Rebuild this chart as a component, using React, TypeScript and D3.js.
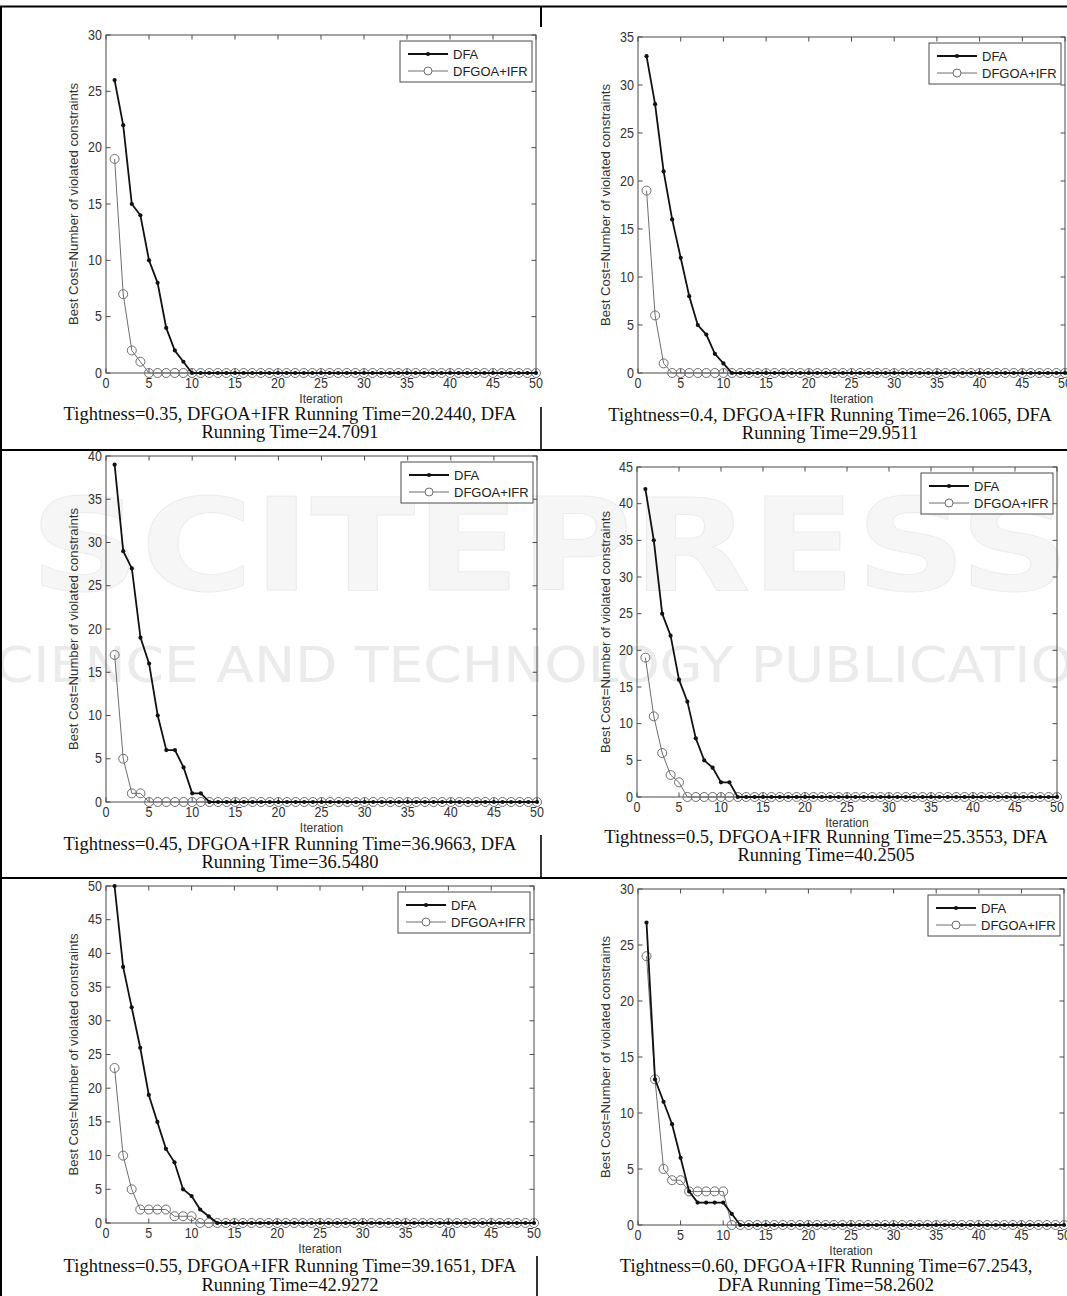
import React from 'react';
import * as d3 from 'd3';

// ---------- data ----------
const xTickValues = [0, 5, 10, 15, 20, 25, 30, 35, 40, 45, 50];
const seriesNames = ['DFA', 'DFGOA+IFR'];
const tightness = ['0.35', '0.4', '0.45', '0.5', '0.55', '0.60'];
const dfgoaTimes = ['20.2440', '26.1065', '36.9663', '25.3553', '39.1651', '67.2543'];
const dfaTimes = ['24.7091', '29.9511', '36.5480', '40.2505', '42.9272', '58.2602'];
const yMaxes = [30, 35, 40, 45, 50, 30];

const dfa035 = [
  26, 22, 15, 14, 10, 8, 4, 2, 1, 0,
  0, 0, 0, 0, 0, 0, 0, 0, 0, 0,
  0, 0, 0, 0, 0, 0, 0, 0, 0, 0,
  0, 0, 0, 0, 0, 0, 0, 0, 0, 0,
  0, 0, 0, 0, 0, 0, 0, 0, 0, 0,
];
const ifr035 = [
  19, 7, 2, 1, 0, 0, 0, 0, 0, 0,
  0, 0, 0, 0, 0, 0, 0, 0, 0, 0,
  0, 0, 0, 0, 0, 0, 0, 0, 0, 0,
  0, 0, 0, 0, 0, 0, 0, 0, 0, 0,
  0, 0, 0, 0, 0, 0, 0, 0, 0, 0,
];
const dfa040 = [
  33, 28, 21, 16, 12, 8, 5, 4, 2, 1,
  0, 0, 0, 0, 0, 0, 0, 0, 0, 0,
  0, 0, 0, 0, 0, 0, 0, 0, 0, 0,
  0, 0, 0, 0, 0, 0, 0, 0, 0, 0,
  0, 0, 0, 0, 0, 0, 0, 0, 0, 0,
];
const ifr040 = [
  19, 6, 1, 0, 0, 0, 0, 0, 0, 0,
  0, 0, 0, 0, 0, 0, 0, 0, 0, 0,
  0, 0, 0, 0, 0, 0, 0, 0, 0, 0,
  0, 0, 0, 0, 0, 0, 0, 0, 0, 0,
  0, 0, 0, 0, 0, 0, 0, 0, 0, 0,
];
const dfa045 = [
  39, 29, 27, 19, 16, 10, 6, 6, 4, 1,
  1, 0, 0, 0, 0, 0, 0, 0, 0, 0,
  0, 0, 0, 0, 0, 0, 0, 0, 0, 0,
  0, 0, 0, 0, 0, 0, 0, 0, 0, 0,
  0, 0, 0, 0, 0, 0, 0, 0, 0, 0,
];
const ifr045 = [
  17, 5, 1, 1, 0, 0, 0, 0, 0, 0,
  0, 0, 0, 0, 0, 0, 0, 0, 0, 0,
  0, 0, 0, 0, 0, 0, 0, 0, 0, 0,
  0, 0, 0, 0, 0, 0, 0, 0, 0, 0,
  0, 0, 0, 0, 0, 0, 0, 0, 0, 0,
];
const dfa050 = [
  42, 35, 25, 22, 16, 13, 8, 5, 4, 2,
  2, 0, 0, 0, 0, 0, 0, 0, 0, 0,
  0, 0, 0, 0, 0, 0, 0, 0, 0, 0,
  0, 0, 0, 0, 0, 0, 0, 0, 0, 0,
  0, 0, 0, 0, 0, 0, 0, 0, 0, 0,
];
const ifr050 = [
  19, 11, 6, 3, 2, 0, 0, 0, 0, 0,
  0, 0, 0, 0, 0, 0, 0, 0, 0, 0,
  0, 0, 0, 0, 0, 0, 0, 0, 0, 0,
  0, 0, 0, 0, 0, 0, 0, 0, 0, 0,
  0, 0, 0, 0, 0, 0, 0, 0, 0, 0,
];
const dfa055 = [
  50, 38, 32, 26, 19, 15, 11, 9, 5, 4,
  2, 1, 0, 0, 0, 0, 0, 0, 0, 0,
  0, 0, 0, 0, 0, 0, 0, 0, 0, 0,
  0, 0, 0, 0, 0, 0, 0, 0, 0, 0,
  0, 0, 0, 0, 0, 0, 0, 0, 0, 0,
];
const ifr055 = [
  23, 10, 5, 2, 2, 2, 2, 1, 1, 1,
  0, 0, 0, 0, 0, 0, 0, 0, 0, 0,
  0, 0, 0, 0, 0, 0, 0, 0, 0, 0,
  0, 0, 0, 0, 0, 0, 0, 0, 0, 0,
  0, 0, 0, 0, 0, 0, 0, 0, 0, 0,
];
const dfa060 = [
  27, 13, 11, 9, 6, 3, 2, 2, 2, 2,
  1, 0, 0, 0, 0, 0, 0, 0, 0, 0,
  0, 0, 0, 0, 0, 0, 0, 0, 0, 0,
  0, 0, 0, 0, 0, 0, 0, 0, 0, 0,
  0, 0, 0, 0, 0, 0, 0, 0, 0, 0,
];
const ifr060 = [
  24, 13, 5, 4, 4, 3, 3, 3, 3, 3,
  0, 0, 0, 0, 0, 0, 0, 0, 0, 0,
  0, 0, 0, 0, 0, 0, 0, 0, 0, 0,
  0, 0, 0, 0, 0, 0, 0, 0, 0, 0,
  0, 0, 0, 0, 0, 0, 0, 0, 0, 0,
];

const dfaSeries = [dfa035, dfa040, dfa045, dfa050, dfa055, dfa060];
const ifrSeries = [ifr035, ifr040, ifr045, ifr050, ifr055, ifr060];

// ---------- layout ----------
const W = 1067;
const H = 1296;
const layout = [
  { left: 106, right: 536, top: 35, bottom: 373, yLabelX: 73, capX: 290, capY: [420, 438], split: 'std' },
  { left: 638, right: 1065, top: 37, bottom: 373, yLabelX: 605, capX: 830, capY: [421, 439], split: 'std' },
  { left: 106, right: 537, top: 456, bottom: 802, yLabelX: 73, capX: 290, capY: [850, 868], split: 'std' },
  { left: 637, right: 1057, top: 467, bottom: 797, yLabelX: 605, capX: 826, capY: [843, 861], split: 'std' },
  { left: 106, right: 534, top: 886, bottom: 1223, yLabelX: 73, capX: 290, capY: [1272, 1291], split: 'std' },
  { left: 638, right: 1064, top: 889, bottom: 1225, yLabelX: 605, capX: 826, capY: [1272, 1291], split: 'alt' },
];

const SANS = 'Arial, "Liberation Sans", Helvetica, sans-serif';
const SERIF = '"Times New Roman", "Liberation Serif", serif';
const FRAME = '#4a4a4a';
const TICKTXT = '#333';
const GRAY = '#6e6e6e';
const SY = 1.1; // vertical stretch of the reference's small sans text

function T({ x, y, children, anchor = 'start', size = 12, family = SANS, fill = TICKTXT, sy = SY }: any) {
  return (
    <text
      transform={`translate(${x},${y}) scale(1,${sy})`}
      textAnchor={anchor}
      fontFamily={family}
      fontSize={size}
      fill={fill}
    >
      {children}
    </text>
  );
}

function Panel({ idx }: { idx: number }) {
  const L = layout[idx];
  const x = d3.scaleLinear().domain([0, 50]).range([L.left, L.right]);
  const y = d3.scaleLinear().domain([0, yMaxes[idx]]).range([L.bottom, L.top]);
  const yTicks = d3.range(0, yMaxes[idx] + 0.001, 5);
  const line = d3
    .line<number>()
    .x((_, i) => x(i + 1))
    .y((d) => y(d));
  const dfa = dfaSeries[idx];
  const ifr = ifrSeries[idx];
  const tl = 4.5;

  const lgW = 132;
  const lgH = 41;
  const lgX = L.right - 4 - lgW;
  const lgY = L.top + 6;

  const t = tightness[idx];
  const lines =
    L.split === 'std'
      ? [`Tightness=${t}, DFGOA+IFR Running Time=${dfgoaTimes[idx]}, DFA`, `Running Time=${dfaTimes[idx]}`]
      : [`Tightness=${t}, DFGOA+IFR Running Time=${dfgoaTimes[idx]},`, `DFA Running Time=${dfaTimes[idx]}`];

  return (
    <g>
      {/* frame */}
      <rect x={L.left} y={L.top} width={L.right - L.left} height={L.bottom - L.top} fill="none" stroke={FRAME} strokeWidth={1} />
      {/* x ticks */}
      {xTickValues.map((v) => (
        <g key={'x' + v}>
          <line x1={x(v)} x2={x(v)} y1={L.bottom} y2={L.bottom - tl} stroke={FRAME} />
          <line x1={x(v)} x2={x(v)} y1={L.top} y2={L.top + tl} stroke={FRAME} />
          <T x={x(v)} y={L.bottom + 15} anchor="middle" size={12.5}>
            {v}
          </T>
        </g>
      ))}
      {/* y ticks */}
      {yTicks.map((v) => (
        <g key={'y' + v}>
          <line x1={L.left} x2={L.left + tl} y1={y(v)} y2={y(v)} stroke={FRAME} />
          <line x1={L.right} x2={L.right - tl} y1={y(v)} y2={y(v)} stroke={FRAME} />
          <T x={L.left - 4} y={y(v) + 4.5} anchor="end" size={12.5}>
            {v}
          </T>
        </g>
      ))}
      {/* axis labels */}
      <T x={(L.left + L.right) / 2} y={L.bottom + 30} anchor="middle" size={12}>
        Iteration
      </T>
      <text
        transform={`translate(${L.yLabelX + 4.5},${(L.top + L.bottom) / 2}) rotate(-90)`}
        textAnchor="middle"
        fontFamily={SANS}
        fontSize={12.5}
        fill={TICKTXT}
        textLength={242}
        lengthAdjust="spacingAndGlyphs"
      >
        Best Cost=Number of violated constraints
      </text>
      {/* DFGOA+IFR series */}
      <path d={line(ifr) || ''} fill="none" stroke={GRAY} strokeWidth={1} />
      {ifr.map((v, i) => (
        <circle key={'c' + i} cx={x(i + 1)} cy={y(v)} r={4.5} fill="none" stroke={GRAY} strokeWidth={1} />
      ))}
      {/* DFA series */}
      <path d={line(dfa) || ''} fill="none" stroke="#111" strokeWidth={1.8} />
      {dfa.map((v, i) => (
        <circle key={'d' + i} cx={x(i + 1)} cy={y(v)} r={2.1} fill="#111" />
      ))}
      {/* legend */}
      <rect x={lgX} y={lgY} width={lgW} height={lgH} fill="#fff" stroke={FRAME} strokeWidth={1} />
      <line x1={lgX + 8} x2={lgX + 48} y1={lgY + 13} y2={lgY + 13} stroke="#111" strokeWidth={1.8} />
      <circle cx={lgX + 28} cy={lgY + 13} r={2.1} fill="#111" />
      <T x={lgX + 53} y={lgY + 17.5} size={13} fill="#222" sy={1.05}>
        {seriesNames[0]}
      </T>
      <line x1={lgX + 8} x2={lgX + 48} y1={lgY + 30} y2={lgY + 30} stroke={GRAY} strokeWidth={1} />
      <circle cx={lgX + 28} cy={lgY + 30} r={4} fill="#fff" stroke={GRAY} strokeWidth={1} />
      <T x={lgX + 53} y={lgY + 34.5} size={13} fill="#222" sy={1.05}>
        {seriesNames[1]}
      </T>
      {/* caption */}
      {lines.map((s, k) => (
        <T key={'cap' + k} x={L.capX} y={L.capY[k]} anchor="middle" family={SERIF} size={18.5} fill="#111" sy={1}>
          {s}
        </T>
      ))}
    </g>
  );
}

export default function App() {
  return (
    <svg
      width={W}
      height={H}
      viewBox={`0 0 ${W} ${H}`}
      style={{ position: 'absolute', left: 0, top: 0, background: '#fff', display: 'block' }}
    >
      <rect x={0} y={0} width={W} height={H} fill="#fff" />
      {/* watermark */}
      <g opacity={0.42}>
        <text x={30} y={590} fontFamily={'"DejaVu Sans", sans-serif'} fontWeight="bold" fontSize={128} fill="#ebebeb" stroke="#d4d4d4" strokeWidth={1} textLength={1040} lengthAdjust="spacingAndGlyphs">
          SCITEPRESS
        </text>
        <text x={-40} y={682} fontFamily={'"DejaVu Sans", sans-serif'} fontSize={50} fill="#d0d0d0" textLength={1190} lengthAdjust="spacingAndGlyphs">
          SCIENCE AND TECHNOLOGY PUBLICATIONS
        </text>
      </g>
      {/* table rules */}
      <g stroke="#000">
        <line x1={0} x2={W} y1={6.5} y2={6.5} strokeWidth={2.2} />
        <line x1={0} x2={W} y1={450} y2={450} strokeWidth={2} />
        <line x1={0} x2={W} y1={878} y2={878} strokeWidth={2} />
        <line x1={1} x2={1} y1={6} y2={H} strokeWidth={2} />
        <line x1={541} x2={541} y1={6} y2={27} strokeWidth={2} />
        <line x1={541} x2={541} y1={407} y2={450} strokeWidth={1.6} />
        <line x1={541} x2={541} y1={835} y2={878} strokeWidth={1.6} />
        <line x1={537} x2={537} y1={1256} y2={H} strokeWidth={1.6} />
      </g>
      {layout.map((_, i) => (
        <Panel key={i} idx={i} />
      ))}
    </svg>
  );
}
